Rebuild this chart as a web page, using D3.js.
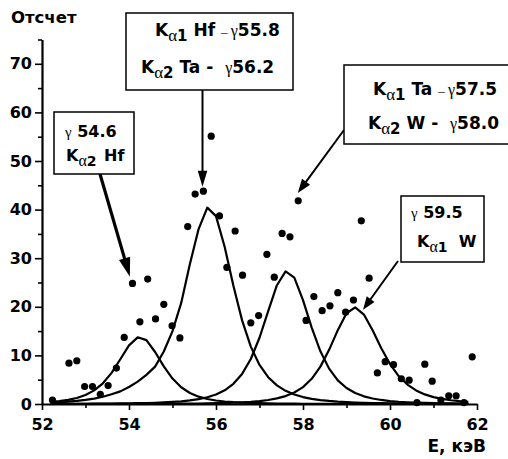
<!DOCTYPE html>
<html>

<head>
  <meta charset="utf-8">
  <title>Spectrum fit</title>
  <script src="https://cdn.jsdelivr.net/npm/d3@7"></script>
  <style type="text/css">
    body {
      margin: 0;
      background: #fff;
    }

    text {
      font-family: "DejaVu Sans", sans-serif;
      font-weight: bold;
      fill: #000;
      white-space: pre;
    }

    .greek {
      font-family: "Liberation Serif", serif;
      font-weight: normal;
    }

    .axis path,
    .axis line {
      stroke: #000;
    }
  </style>
</head>

<body>
  <div id="chartArea"></div>
  <script type="text/javascript">
    // measured points
    let energy = [52.24, 52.62, 52.80, 52.98, 53.16, 53.34, 53.52, 53.71, 53.89, 54.08,
      54.25, 54.43, 54.61, 54.80, 54.99, 55.17, 55.35, 55.52, 55.71, 55.89,
      56.08, 56.25, 56.44, 56.61, 56.80, 56.98, 57.17, 57.34, 57.52, 57.70,
      57.89, 58.07, 58.25, 58.44, 58.62, 58.80, 58.98, 59.16, 59.34, 59.52,
      59.71, 59.89, 60.08, 60.26, 60.44, 60.62, 60.80, 60.97, 61.17, 61.35,
      61.52, 61.70, 61.89];
    let counts = [0.8, 8.4, 8.9, 3.6, 3.6, 2.0, 3.8, 7.4, 13.7, 24.8,
      16.9, 25.7, 17.5, 20.5, 16.1, 13.6, 36.5, 43.2, 43.8, 55.1,
      38.7, 28.1, 35.6, 26.5, 16.7, 18.2, 30.8, 26.1, 35.1, 34.4,
      41.8, 17.2, 22.1, 19.2, 20.2, 22.9, 18.9, 21.4, 37.7, 25.9,
      6.4, 8.7, 8.1, 5.2, 4.9, 0.3, 8.2, 4.7, 0.8, 1.7,
      1.7, 0.3, 9.7];

    let fitE = [52.2, 52.4, 52.6, 52.8, 53.0, 53.2, 53.4, 53.6, 53.8, 54.0,
      54.2, 54.4, 54.6, 54.8, 55.0, 55.2, 55.4, 55.6, 55.8, 56.0,
      56.2, 56.4, 56.6, 56.8, 57.0, 57.2, 57.4, 57.6, 57.8, 58.0,
      58.2, 58.4, 58.6, 58.8, 59.0, 59.2, 59.4, 59.6, 59.8, 60.0,
      60.2, 60.4, 60.6, 60.8, 61.0, 61.2, 61.4, 61.6, 61.8];
    let peakHf2 = [0.43, 0.60, 0.86, 1.24, 1.85, 2.80, 4.26, 6.40, 9.21, 12.07,
      13.72, 13.14, 10.70, 7.74, 5.24, 3.45, 2.27, 1.51, 1.03, 0.72,
      0.51, 0.37, 0.27, 0.21, 0.16, 0.12, 0.10, 0.08, 0.06, 0.05,
      0.04, 0.03, 0.03, 0.02, 0.02, 0.02, 0.02, 0.01, 0.01, 0.01,
      0.01, 0.01, 0.01, 0.01, 0.01, 0.01, 0.01, 0.01, 0.01];
    let peakHf1 = [0.3, 0.4, 0.5, 0.65, 0.85, 1.1, 1.5, 2.0, 2.6, 3.5,
      4.6, 6.0, 7.7, 10.8, 15.0, 20.8, 28.8, 36.0, 40.4, 38.65,
      32.30, 24.34, 17.21, 11.81, 8.04, 5.51, 3.83, 2.71, 1.95, 1.43,
      1.07, 0.81, 0.63, 0.49, 0.39, 0.31, 0.25, 0.20, 0.17, 0.14,
      0.12, 0.10, 0.08, 0.07, 0.06, 0.05, 0.05, 0.04, 0.04];
    let peakTa1 = [0.03, 0.03, 0.04, 0.04, 0.05, 0.06, 0.07, 0.09, 0.11, 0.13,
      0.16, 0.20, 0.25, 0.32, 0.42, 0.55, 0.73, 1.00, 1.38, 1.95,
      2.82, 4.15, 6.19, 9.26, 13.63, 19.1, 24.44, 27.3, 26.02, 21.37,
      15.73, 10.85, 7.28, 4.87, 3.29, 2.26, 1.58, 1.13, 0.83, 0.61,
      0.46, 0.36, 0.28, 0.22, 0.17, 0.14, 0.12, 0.09, 0.08];
    let peakW1 = [0.01, 0.01, 0.01, 0.01, 0.01, 0.01, 0.02, 0.02, 0.02, 0.03,
      0.03, 0.03, 0.04, 0.05, 0.06, 0.07, 0.09, 0.10, 0.13, 0.16,
      0.20, 0.26, 0.34, 0.45, 0.60, 0.82, 1.15, 1.63, 2.36, 3.48,
      5.18, 7.69, 11.14, 15.19, 18.67, 19.88, 18.40, 15.16, 11.46, 8.22,
      5.75, 4.00, 2.80, 1.98, 1.42, 1.04, 0.77, 0.58, 0.45];

    let xTicks = [52, 54, 56, 58, 60, 62];
    let xMinor = [53, 55, 57, 59, 61];
    let yTicks = [0, 10, 20, 30, 40, 50, 60, 70];
    let yMinor = [5, 15, 25, 35, 45, 55, 65, 75];

    let w = 508;
    let h = 459;

    let x = d3.scaleLinear().domain([52, 62]).range([42, 477]);
    let y = d3.scaleLinear().domain([0, 75]).range([404, 39.5]);

    let svg = d3.select('#chartArea').append('svg')
      .attr('width', w)
      .attr('height', h)
      .style('display', 'block');

    // axes
    svg.append('g')
      .attr('class', 'axis')
      .attr('transform', 'translate(0,404)')
      .call(d3.axisBottom(x).tickValues(xTicks).tickSize(6).tickSizeOuter(0).tickPadding(9));
    svg.append('g')
      .attr('class', 'axis minor')
      .attr('transform', 'translate(0,404)')
      .call(d3.axisBottom(x).tickValues(xMinor).tickSize(4).tickFormat(''))
      .select('.domain').remove();

    svg.append('g')
      .attr('class', 'axis')
      .attr('transform', 'translate(42,0)')
      .call(d3.axisLeft(y).tickValues(yTicks).tickSize(7).tickSizeOuter(0).tickPadding(3));
    svg.append('g')
      .attr('class', 'axis minor')
      .attr('transform', 'translate(42,0)')
      .call(d3.axisLeft(y).tickValues(yMinor).tickSize(4).tickFormat(''))
      .select('.domain').remove();

    svg.selectAll('.axis .domain').attr('stroke-width', 2.2);
    svg.selectAll('.axis .tick line').attr('stroke-width', 1.6);
    svg.selectAll('.axis .tick text')
      .attr('font-size', 16)
      .attr('font-family', '"DejaVu Sans", sans-serif')
      .attr('font-weight', 'bold')
      .attr('fill', '#000');

    svg.append('text')
      .attr('x', 11)
      .attr('y', 23)
      .attr('font-size', 16.5)
      .text('Отсчет');
    svg.append('text')
      .attr('x', 486)
      .attr('y', 452)
      .attr('text-anchor', 'end')
      .attr('font-size', 17)
      .text('E, кэВ');

    // fitted curves
    let line = d3.line()
      .x((d, i) => x(fitE[i]))
      .y(d => y(d));

    svg.selectAll('path.fit')
      .data([peakHf2, peakHf1, peakTa1, peakW1])
      .enter()
      .append('path')
      .attr('class', 'fit')
      .attr('d', line)
      .attr('fill', 'none')
      .attr('stroke', '#000')
      .attr('stroke-width', 2.2)
      .attr('stroke-linejoin', 'round');

    // points
    svg.selectAll('circle')
      .data(counts)
      .enter()
      .append('circle')
      .attr('cx', (d, i) => x(energy[i]))
      .attr('cy', d => y(d))
      .attr('r', 3.6)
      .attr('fill', '#000');

    // annotations
    let K = (sub, s) => [
      { t: 'K', size: s },
      { t: 'α', size: s, cls: 'greek', dy: 5 },
      { t: sub, size: s - 2 }
    ];

    let notes = [
      {
        box: [126, 13, 167, 77], from: [202.5, 90], to: [55.69, 44.7], lw: 2, hl: 16, hw: 4.8,
        lines: [
          { x: 155, y: 36, parts: K('1', 17).concat([{ t: ' Hf ', size: 17, dy: -5 }, { t: '– ', size: 13, cls: 'greek' }, { t: 'γ', size: 16, cls: 'greek' }, { t: '55.8', size: 17 }]) },
          { x: 141, y: 73, parts: K('2', 17).concat([{ t: ' Ta -  ', size: 17, dy: -5 }, { t: 'γ', size: 16, cls: 'greek' }, { t: '56.2', size: 17 }]) }
        ]
      },
      {
        box: [54, 112, 80, 62], from: [100, 174], to: [54.02, 26.2], lw: 3.2, hl: 19, hw: 5.8,
        lines: [
          { x: 65, y: 137, parts: [{ t: 'γ', size: 15, cls: 'greek' }, { t: ' 54.6', size: 16 }] },
          { x: 66, y: 161, parts: K('2', 16).concat([{ t: ' Hf', size: 16, dy: -5, dx: 2 }]) }
        ]
      },
      {
        box: [344, 65, 170, 79], from: [344, 130], to: [57.88, 43.4], lw: 2, hl: 14, hw: 5,
        lines: [
          { x: 373, y: 95, parts: K('1', 17).concat([{ t: ' Ta ', size: 17, dy: -5 }, { t: '– ', size: 13, cls: 'greek' }, { t: 'γ', size: 16, cls: 'greek' }, { t: '57.5', size: 17 }]) },
          { x: 368, y: 129, parts: K('2', 17).concat([{ t: ' W -  ', size: 17, dy: -5 }, { t: 'γ', size: 16, cls: 'greek' }, { t: '58.0', size: 17 }]) }
        ]
      },
      {
        box: [401, 196, 83, 66], from: [398, 261], to: [59.38, 19.4], lw: 2, hl: 13, hw: 4.8,
        lines: [
          { x: 411, y: 218, parts: [{ t: 'γ', size: 15, cls: 'greek' }, { t: ' 59.5', size: 16 }] },
          { x: 417, y: 247, parts: K('1', 16).concat([{ t: '  W', size: 16, dy: -5 }]) }
        ]
      }
    ];

    notes.forEach(n => {
      let tx = x(n.to[0]);
      let ty = y(n.to[1]);
      let dx = tx - n.from[0];
      let dy = ty - n.from[1];
      let len = Math.sqrt(dx * dx + dy * dy);
      let ux = dx / len;
      let uy = dy / len;
      let bx = tx - ux * n.hl;
      let by = ty - uy * n.hl;

      svg.append('line')
        .attr('x1', n.from[0])
        .attr('y1', n.from[1])
        .attr('x2', bx + ux * 2)
        .attr('y2', by + uy * 2)
        .attr('stroke', '#000')
        .attr('stroke-width', n.lw);

      svg.append('path')
        .attr('d', `M${tx},${ty}L${bx - uy * n.hw},${by + ux * n.hw}L${bx + uy * n.hw},${by - ux * n.hw}Z`)
        .attr('fill', '#000');

      svg.append('rect')
        .attr('x', n.box[0])
        .attr('y', n.box[1])
        .attr('width', n.box[2])
        .attr('height', n.box[3])
        .attr('fill', '#fff')
        .attr('stroke', '#000')
        .attr('stroke-width', 1.5);

      n.lines.forEach(l => {
        let t = svg.append('text')
          .attr('x', l.x)
          .attr('y', l.y);
        l.parts.forEach(p => {
          let s = t.append('tspan')
            .attr('font-size', p.size)
            .text(p.t);
          if (p.cls) s.attr('class', p.cls);
          if (p.dy) s.attr('dy', p.dy);
          if (p.dx) s.attr('dx', p.dx);
        });
      });
    });
  </script>
</body>

</html>
